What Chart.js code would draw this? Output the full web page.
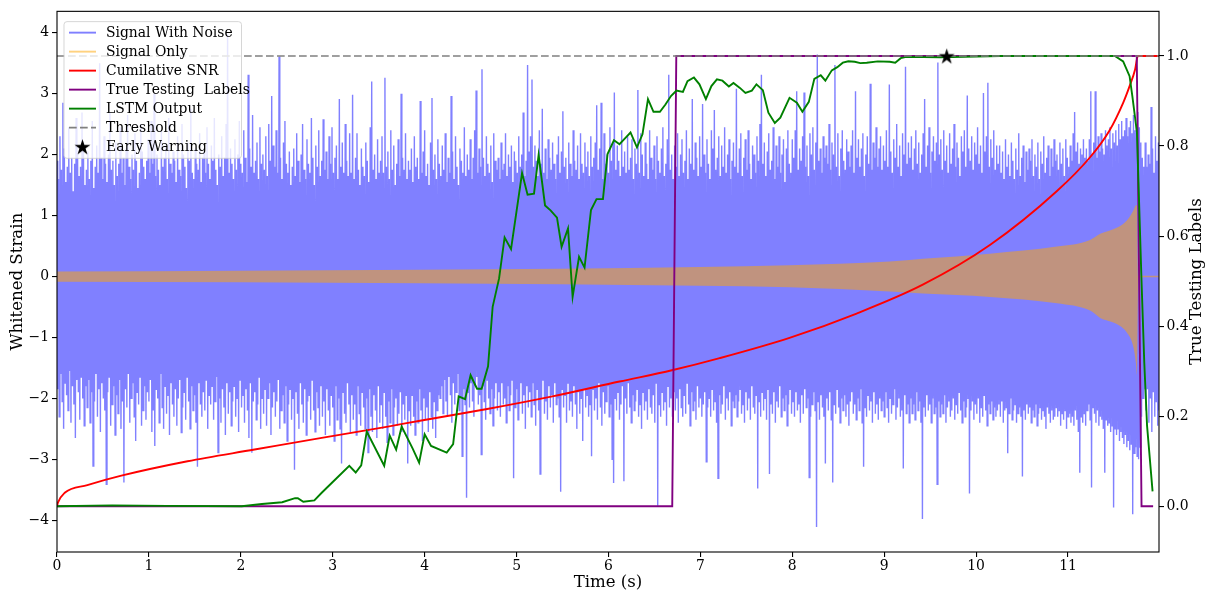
<!DOCTYPE html>
<html><head><meta charset="utf-8">
<script src="https://cdn.jsdelivr.net/npm/chart.js@4.4.1/dist/chart.umd.min.js"></script>
<style>html,body{margin:0;padding:0;background:#fff;overflow:hidden}canvas{display:block}</style>
</head><body>
<canvas id="c" width="1210" height="594"></canvas>
<script>
// ---------------- data ----------------
const xTicks = [0,1,2,3,4,5,6,7,8,9,10,11];
const leftTicks = [-4,-3,-2,-1,0,1,2,3,4];
const rightTicks = [0,0.2,0.4,0.6,0.8,1.0];
const timeMax = 11.99;

// whitened strain: sampled every noiseDt seconds, alternating local maxima / minima
const noiseDt = 0.008;
const noiseUp = [
1.9,1.6,2.3,1.75,2.85,2.1,1.55,1.8,2.45,1.7,1.95,1.4,1.85,2.6,2.0,1.65,1.8,2.69,2.2,1.5,
1.75,2.05,1.6,1.9,2.55,1.45,1.8,2.15,1.7,3.5,1.95,1.6,2.3,1.85,1.55,2.0,2.7,1.75,1.9,1.5,
2.2,1.65,1.85,2.45,1.7,1.95,1.5,2.1,2.65,1.8,1.6,2.0,1.75,2.35,1.9,1.45,1.7,2.5,2.05,1.8,
1.6,1.9,2.25,1.7,2.55,1.85,3.0,1.65,2.0,1.75,1.5,2.4,1.8,1.95,2.15,1.6,2.6,1.85,1.7,2.05,
1.9,1.55,2.3,1.75,1.65,2.5,2.0,1.8,1.45,2.2,1.9,2.75,1.7,1.6,2.1,1.85,1.75,2.35,1.55,1.95,
2.05,1.7,2.45,1.85,1.6,2.15,1.9,2.6,1.75,1.5,2.0,1.8,2.3,1.65,1.95,2.5,3.97,1.7,2.1,1.85,
1.6,2.25,1.75,2.0,2.55,1.85,1.7,2.4,1.95,1.55,3.31,2.1,1.8,2.65,1.7,1.9,2.2,1.6,2.45,1.85,
2.0,1.75,2.3,1.65,2.5,1.9,2.96,2.15,1.8,2.4,1.7,3.61,1.95,1.6,2.2,2.55,1.85,1.7,2.05,1.5,
1.8,2.1,1.65,2.35,1.9,1.55,2.0,2.5,1.75,1.6,2.25,1.85,1.7,2.6,1.95,1.5,2.15,1.8,2.4,1.65,
1.9,2.58,1.75,2.05,1.6,2.3,1.85,2.45,1.7,1.95,2.15,1.6,2.91,1.8,2.2,1.7,2.5,1.9,1.65,2.35,
1.7,2.98,1.6,1.95,2.35,1.75,1.5,2.1,1.8,1.65,2.2,1.9,1.55,2.45,3.2,1.75,2.0,1.6,2.25,1.7,
1.9,2.3,1.7,3.26,1.8,2.05,1.6,2.4,1.75,2.15,1.5,1.85,2.25,1.65,3.0,1.95,1.75,2.35,1.6,1.9,
1.75,2.1,1.55,2.3,1.8,1.95,1.6,2.88,1.7,2.05,2.4,1.65,1.85,1.5,2.2,2.93,1.75,2.0,1.6,2.25,
1.85,1.65,2.15,1.75,2.35,1.55,1.95,1.7,2.96,2.05,1.6,2.3,1.8,1.5,2.1,1.9,1.7,2.45,1.65,2.0,
1.75,2.25,1.6,1.95,2.4,3.05,1.7,2.1,1.8,3.4,1.95,1.65,2.3,1.85,1.7,2.15,1.55,2.35,1.9,1.75,
1.95,1.6,2.2,1.75,1.85,2.35,1.65,2.0,1.8,2.15,1.55,2.05,1.9,1.7,2.3,1.8,2.0,2.69,1.65,1.9,
3.47,2.05,2.3,3.23,1.8,2.15,1.9,1.65,2.4,1.85,2.75,1.7,2.1,1.6,2.25,1.95,1.75,2.2,1.85,1.6,
2.0,2.3,1.7,2.05,2.71,1.8,1.95,1.6,2.2,1.85,1.65,2.4,1.9,1.75,2.15,1.6,2.35,1.85,1.7,2.2,
1.8,2.05,1.65,2.3,1.8,1.95,2.2,2.81,1.75,2.1,2.85,1.6,2.35,1.85,2.0,1.7,2.45,1.9,2.2,3.02,
1.75,2.15,1.9,1.65,2.4,1.8,2.05,1.7,2.3,1.75,1.95,2.25,1.6,2.1,1.85,3.06,1.7,2.35,2.0,1.65,
2.2,1.85,1.6,2.4,1.95,1.75,2.15,1.6,2.3,1.9,1.7,2.1,2.45,1.65,1.85,2.25,3.31,1.75,2.0,1.6,
2.15,1.8,2.35,1.65,2.0,2.25,1.7,1.9,2.4,1.6,2.1,1.85,2.91,1.75,2.2,1.95,1.65,2.3,1.8,2.83,
2.0,1.7,2.25,1.85,1.6,2.4,2.1,2.73,1.75,1.95,2.3,1.65,2.15,1.8,2.45,1.7,2.0,2.25,1.6,1.9,
2.2,1.8,3.08,1.7,2.1,2.35,1.65,1.95,2.25,1.75,2.4,1.85,1.6,2.15,2.0,1.7,2.3,1.9,2.5,3.31,
1.85,2.2,1.65,2.05,2.35,1.75,1.9,2.45,1.6,2.15,1.8,2.3,1.7,2.0,2.25,1.55,2.1,2.4,1.85,1.7,
2.25,1.95,2.4,3.04,1.75,2.1,1.9,2.3,3.02,1.8,2.15,1.65,2.35,2.0,2.45,1.75,2.2,3.64,1.9,2.1,
1.7,2.3,1.95,2.15,1.85,2.5,1.75,2.2,2.0,3.47,1.8,2.35,1.65,2.1,2.4,1.9,1.75,2.25,2.05,1.8,
2.15,2.4,1.7,3.04,1.95,2.25,1.8,2.1,2.35,1.65,2.0,2.3,1.85,3.16,1.75,2.2,1.95,2.45,1.8,2.1,
2.3,1.75,2.15,1.9,2.4,1.8,3.15,2.05,1.7,2.25,1.95,2.5,1.8,2.15,1.65,2.35,2.0,3.44,1.85,2.2,
1.95,2.3,1.75,2.1,2.4,1.85,2.2,1.7,2.0,2.35,2.91,1.8,2.15,2.45,1.7,2.05,2.3,1.9,2.2,3.51,
2.0,2.25,1.75,2.4,1.9,2.15,1.7,2.35,1.85,2.1,2.5,1.8,2.2,1.95,1.65,2.3,2.05,2.4,1.8,2.97,
2.1,1.9,2.3,1.75,2.2,2.0,2.45,1.85,2.15,1.7,3.01,2.05,2.3,3.18,1.8,2.25,1.95,2.4,1.75,2.15,
1.85,2.15,1.7,2.05,1.6,2.25,1.8,2.0,1.65,2.2,1.9,1.6,2.1,1.75,2.35,1.65,1.95,2.15,1.55,2.05,
1.75,2.1,1.9,2.25,1.65,2.0,1.8,2.2,1.6,2.05,1.85,2.3,1.7,1.95,2.15,1.65,2.1,1.8,2.25,1.9,
2.0,1.75,2.2,1.85,2.1,1.65,2.25,1.95,1.8,2.15,1.9,2.35,2.7,2.05,2.2,1.85,2.1,2.0,2.25,1.95,
2.1,1.9,2.25,3.04,2.0,2.2,3.04,1.95,2.3,2.05,2.35,2.1,2.0,2.4,2.15,2.25,2.45,2.1,2.35,2.2,
2.4,2.15,2.5,2.25,2.55,2.3,2.4,2.6,2.3,2.45,2.55,2.35,2.65,2.4,2.5,2.7,2.45,2.2,1.95,1.8,
2.2,1.8,2.0,1.85,2.78,2.1,1.7,2.3,1.9,2.2
];
const noiseDown = [
-1.85,-2.3,-1.6,-2.05,-2.5,-1.75,-1.95,-2.2,-1.55,-2.4,-1.8,-2.1,-2.65,-1.7,-1.9,-2.35,-1.65,-2.0,-2.45,-1.8,
-2.15,-1.7,-2.4,-1.9,-3.11,-2.05,-1.6,-2.3,-1.85,-2.55,-1.75,-2.0,-2.2,-3.41,-1.9,-1.65,-2.45,-2.1,-1.8,-2.6,
-1.95,-2.25,-1.7,-2.5,-2.05,-3.38,-1.85,-2.15,-1.6,-2.4,-2.0,-1.75,-2.3,-2.7,-1.9,-2.1,-1.65,-2.45,-2.2,-1.8,
-2.35,-1.9,-2.05,-1.7,-2.55,-2.2,-2.78,-1.85,-2.0,-2.4,-1.6,-2.15,-2.5,-1.8,-2.25,-1.95,-2.6,-1.75,-2.1,-2.3,
-1.85,-2.45,-2.0,-1.7,-2.56,-2.15,-1.9,-2.35,-1.65,-2.05,-2.5,-1.8,-2.2,-1.95,-2.4,-3.12,-1.75,-2.1,-2.3,-1.9,
-2.2,-1.7,-2.5,-1.95,-2.1,-1.8,-2.35,-2.05,-1.65,-2.89,-2.0,-2.4,-1.85,-2.15,-2.6,-1.75,-2.25,-1.9,-2.45,-2.05,
-1.8,-2.3,-2.0,-2.55,-1.7,-2.15,-1.95,-2.4,-1.85,-2.2,-2.65,-1.75,-2.89,-2.05,-1.9,-2.35,-2.1,-1.65,-2.5,-2.0,
-2.25,-1.85,-2.45,-2.0,-1.75,-2.6,-2.15,-1.9,-2.3,-2.05,-1.7,-2.5,-2.2,-1.95,-2.4,-1.8,-2.7,-2.1,-1.85,-2.35,
-2.0,-3.17,-1.9,-2.25,-2.5,-1.75,-2.1,-2.4,-1.85,-2.6,-2.05,-1.95,-2.35,-1.7,-2.2,-2.55,-1.9,-2.15,-2.45,-1.8,
-2.3,-2.05,-2.6,-1.85,-2.2,-2.45,-1.95,-2.15,-2.7,-1.8,-2.35,-2.0,-2.5,-3.07,-1.9,-2.25,-2.4,-1.75,-2.1,-2.55,
-1.95,-2.35,-2.1,-2.6,-1.8,-2.25,-2.45,-1.9,-2.15,-2.5,-2.0,-2.89,-1.85,-2.3,-2.55,-1.95,-2.2,-2.65,-1.8,-2.4,
-2.1,-2.5,-1.9,-2.3,-2.72,-2.05,-2.4,-1.85,-2.6,-2.15,-2.0,-2.45,-2.25,-1.9,-2.55,-2.1,-2.35,-1.95,-3.07,-2.2,
-2.45,-1.95,-2.3,-2.6,-2.05,-2.4,-1.85,-2.2,-2.7,-2.0,-2.35,-2.15,-2.55,-1.9,-2.3,-2.5,-2.05,-2.65,-2.2,-1.95,
-2.0,-1.8,-2.25,-1.7,-2.05,-2.3,-1.65,-1.95,-2.4,-1.75,-2.1,-1.9,-1.6,-2.2,-2.0,-2.95,-1.85,-2.1,-3.63,-1.9,
-2.15,-1.75,-2.05,-2.3,-1.8,-1.65,-2.1,-1.95,-2.92,-1.8,-2.05,-2.35,-1.7,-2.0,-2.25,-1.85,-2.45,-2.0,-1.75,-2.2,
-1.9,-2.3,-1.75,-2.1,-2.0,-2.4,-1.8,-2.2,-1.95,-1.7,-3.31,-2.15,-1.85,-2.35,-2.05,-1.75,-2.25,-1.95,-2.5,-1.8,
-2.15,-1.9,-2.3,-1.75,-2.1,-2.45,-1.85,-2.2,-3.24,-2.0,-1.7,-2.25,-2.05,-2.35,-1.8,-2.15,-1.95,-2.4,-1.75,-2.1,
-2.0,-2.3,-3.53,-1.85,-2.15,-1.95,-2.4,-1.75,-2.2,-2.05,-2.3,-1.8,-2.1,-2.5,-1.9,-2.25,-2.0,-2.7,-1.85,-2.15,
-1.95,-2.3,-2.1,-2.95,-1.85,-2.2,-2.0,-2.35,-1.75,-2.15,-2.45,-1.9,-2.25,-2.05,-1.8,-2.3,-2.1,-3.0,-3.39,-2.0,
-2.2,-1.9,-2.35,-2.1,-1.8,-3.36,-2.0,-2.25,-1.75,-2.15,-2.4,-1.95,-2.2,-2.05,-1.85,-2.3,-2.1,-2.5,-1.9,-2.2,
-2.05,-2.35,-1.85,-2.15,-2.25,-1.95,-2.4,-1.75,-3.76,-2.1,-2.3,-1.9,-2.2,-2.05,-2.45,-1.8,-2.15,-2.0,-2.3,-1.9,
-2.2,-2.0,-2.4,-1.85,-2.15,-2.3,-1.95,-2.25,-1.75,-2.1,-2.45,-1.9,-2.2,-2.05,-2.35,-1.8,-2.15,-2.0,-2.3,-2.1,
-1.9,-3.04,-2.15,-2.0,-2.3,-1.85,-2.2,-2.05,-2.4,-3.31,-1.95,-2.25,-2.1,-1.8,-2.35,-2.0,-2.2,-1.9,-2.45,-2.05,
-2.15,-1.95,-2.3,-2.05,-1.85,-2.25,-2.1,-2.4,-1.9,-2.2,-2.0,-2.35,-1.8,-2.15,-2.25,-1.95,-3.48,-2.05,-2.3,-1.9,
-2.2,-2.0,-2.35,-1.85,-3.24,-2.1,-2.25,-1.9,-2.4,-2.05,-2.15,-1.8,-2.3,-2.0,-2.2,-1.95,-2.45,-2.1,-1.85,-2.25,
-2.05,-2.3,-1.9,-2.2,-2.1,-2.4,-1.95,-2.25,-1.85,-2.15,-2.0,-3.3,-2.3,-2.1,-1.9,-2.2,-4.11,-2.05,-2.35,-1.95,
-2.15,-2.3,-3.07,-2.0,-2.2,-1.9,-2.35,-3.38,-2.1,-2.25,-1.85,-2.15,-2.4,-2.0,-2.2,-1.95,-2.3,-2.1,-2.45,-2.05,
-1.9,-2.25,-2.1,-2.35,-2.0,-2.2,-1.85,-2.4,-3.12,-2.15,-2.3,-1.95,-2.2,-2.05,-2.4,-1.9,-2.25,-2.1,-2.35,-2.0,
-2.2,-2.05,-2.3,-1.9,-2.15,-2.4,-2.0,-2.25,-2.1,-1.85,-2.35,-2.15,-2.0,-2.3,-2.2,-3.15,-1.95,-2.25,-2.1,-2.4,
-2.0,-2.25,-2.1,-2.35,-1.9,-2.2,-2.05,-2.4,-3.98,-2.15,-2.3,-1.95,-2.2,-2.1,-2.4,-2.0,-2.25,-2.15,-3.41,-2.05,
-2.3,-2.1,-2.25,-1.95,-2.4,-2.15,-2.05,-2.3,-2.2,-2.0,-2.35,-2.1,-2.25,-1.9,-2.2,-2.4,-2.05,-2.3,-2.15,-2.0,
-3.56,-2.2,-2.05,-2.35,-2.1,-2.25,-2.0,-2.4,-2.15,-2.3,-1.95,-2.2,-2.45,-2.1,-2.25,-2.05,-2.35,-2.15,-2.3,-2.2,
-2.1,-2.3,-2.05,-2.4,-2.2,-2.15,-2.9,-2.25,-2.0,-2.35,-2.2,-2.1,-2.4,-2.25,-2.15,-2.3,-3.28,-2.2,-2.35,-2.1,
-2.25,-2.15,-2.4,-2.2,-2.3,-2.1,-2.45,-2.25,-2.15,-2.35,-2.2,-2.3,-2.5,-2.15,-2.25,-2.4,-2.2,-2.35,-2.3,-2.15,
-2.3,-2.2,-2.45,-2.25,-2.35,-2.2,-2.5,-2.3,-2.25,-2.4,-2.3,-2.45,-2.2,-2.35,-2.55,-3.22,-2.3,-2.4,-2.25,-2.45,
-2.2,-2.1,-2.35,-3.46,-2.15,-2.25,-2.4,-2.2,-2.45,-2.3,-2.35,-2.5,-3.22,-2.35,-2.45,-2.4,-2.55,-2.45,-3.79,-2.5,
-2.6,-2.5,-2.7,-2.55,-2.65,-2.75,-2.6,-2.8,-2.7,-2.85,-2.75,-3.9,-2.9,-2.8,-2.95,-3.0,-2.8,-2.3,-2.0,-1.85,
-2.2,-1.85,-2.4,-2.0,-2.55,-1.9,-2.3,-2.05,-2.45,-2.2
];
// dense (solid-looking) middle of the noisy strain: [t, upper, lower]
const noiseCore = [
[0,1.1,-1.1],[10.5,1.1,-1.1],[11,1.3,-1.35],[11.3,1.5,-1.55],[11.5,1.65,-1.7],[11.6,1.75,-1.9],
[11.7,1.9,-2.2],[11.76,2.0,-2.4],[11.78,1.1,-1.1],[11.99,1.1,-1.1]
];
// signal only (chirp) envelope: [t, upper, lower]
const chirpEnvelope = [
[0,0.08,-0.085],[2,0.095,-0.095],[3.95,0.11,-0.11],[6.99,0.155,-0.15],[7.97,0.185,-0.175],
[9.06,0.245,-0.245],[9.42,0.29,-0.28],[10.15,0.375,-0.335],[10.88,0.49,-0.44],[11.24,0.6,-0.56],
[11.35,0.7,-0.68],[11.53,0.8,-0.78],[11.64,0.92,-0.92],[11.71,1.08,-1.15],[11.74,1.17,-1.44],
[11.75,1.17,-1.62],[11.765,0,0],[11.99,0,0]
];
// cumulative SNR (right axis)
const cumulativeSNR = [
[0,0],[0.01,0.008],[0.084,0.03],[0.33,0.047],[0.70,0.068],[1.42,0.1],[2.15,0.126],[2.88,0.152],
[3.60,0.177],[3.95,0.19],[4.68,0.216],[5.39,0.244],[6.12,0.277],[6.69,0.302],[7.21,0.329],
[7.97,0.374],[8.70,0.428],[9.42,0.492],[10.15,0.58],[10.88,0.70],[11.24,0.775],[11.45,0.834],
[11.60,0.896],[11.67,0.933],[11.73,0.970],[11.76,1.0],[11.99,1.0]
];
// true testing labels (right axis)
const trueLabels = [[0,0],[6.694,0],[6.738,1],[11.748,1],[11.80,0],[11.926,0]];
// LSTM output (right axis)
const lstmOutput = [
[0,0],[0.6,0.002],[1.2,0.001],[2.01,0],[2.23,0.005],[2.45,0.009],[2.59,0.018],[2.62,0.018],
[2.68,0.01],[2.80,0.013],[2.88,0.03],[3.05,0.064],[3.18,0.09],[3.25,0.075],[3.31,0.091],
[3.37,0.166],[3.56,0.09],[3.62,0.157],[3.69,0.126],[3.75,0.177],[3.87,0.128],[3.94,0.097],
[4.00,0.16],[4.07,0.134],[4.24,0.119],[4.31,0.138],[4.37,0.244],[4.44,0.238],[4.50,0.291],
[4.57,0.261],[4.62,0.261],[4.69,0.311],[4.74,0.443],[4.81,0.506],[4.87,0.597],[4.94,0.571],
[5.06,0.740],[5.12,0.692],[5.19,0.694],[5.24,0.780],[5.31,0.668],[5.37,0.657],[5.44,0.641],
[5.49,0.576],[5.56,0.617],[5.61,0.465],[5.68,0.554],[5.74,0.53],[5.81,0.658],[5.87,0.682],
[5.94,0.682],[5.99,0.782],[6.06,0.813],[6.12,0.804],[6.19,0.819],[6.24,0.830],[6.31,0.797],
[6.37,0.826],[6.43,0.904],[6.49,0.876],[6.56,0.876],[6.62,0.892],[6.68,0.911],[6.74,0.923],
[6.81,0.920],[6.86,0.944],[6.93,0.952],[6.99,0.937],[7.06,0.904],[7.12,0.933],[7.18,0.948],
[7.24,0.945],[7.31,0.932],[7.36,0.940],[7.43,0.929],[7.49,0.918],[7.56,0.923],[7.61,0.937],
[7.68,0.924],[7.74,0.874],[7.81,0.851],[7.87,0.863],[7.97,0.907],[8.05,0.896],[8.11,0.876],
[8.18,0.898],[8.24,0.949],[8.31,0.957],[8.36,0.945],[8.43,0.968],[8.49,0.975],[8.55,0.985],
[8.61,0.988],[8.68,0.987],[8.74,0.984],[8.81,0.985],[8.93,0.988],[9.06,0.987],[9.12,0.985],
[9.18,0.995],[9.24,0.998],[9.61,0.997],[10.26,1.0],[11.51,1.0],[11.60,0.988],[11.67,0.955],
[11.70,0.911],[11.75,0.830],[11.80,0.499],[11.83,0.318],[11.86,0.179],[11.92,0.033]
];
const threshold = [[0,1.0],[11.99,1.0]];
const earlyWarning = [[9.68,1.0]];

const legendLabels = ['Signal With Noise','Signal Only','Cumilative SNR','True Testing  Labels','LSTM Output','Threshold','Early Warning'];
const axisTitles = { x: 'Time (s)', left: 'Whitened Strain', right: 'True Testing Labels' };

// ---------------- build tables for the library ----------------
const pts = arr => arr.map(p => ({x: p[0], y: p[1]}));
const noiseSeries = [];
for (let j = 0; j < noiseUp.length; j++) {
  noiseSeries.push({x: 2 * j * noiseDt, y: noiseUp[j]});
  noiseSeries.push({x: (2 * j + 1) * noiseDt, y: noiseDown[j]});
}
const FONT = "'DejaVu Serif', 'Liberation Serif', serif";
const BLUE = 'rgb(128,128,255)';
const ORANGE = 'rgba(255,165,0,0.5)';
const NONE = 'rgba(0,0,0,0)';

function makeStar(R) {
  const s = Math.ceil(2 * R + 2);
  const c = document.createElement('canvas');
  c.width = s; c.height = s;
  const g = c.getContext('2d');
  g.fillStyle = '#000';
  g.beginPath();
  for (let k = 0; k < 10; k++) {
    const r = (k % 2) ? R * 0.382 : R;
    const a = -Math.PI / 2 + k * Math.PI / 5;
    const px = s / 2 + r * Math.cos(a), py = s / 2 + R * 0.1 + r * Math.sin(a);
    if (k === 0) g.moveTo(px, py); else g.lineTo(px, py);
  }
  g.closePath(); g.fill();
  return c;
}
const starImg = makeStar(8.4);

const lineDs = (label, data, color, axis, order, extra) => Object.assign({
  label, data: pts(data), borderColor: color, backgroundColor: color, borderWidth: 1.9,
  pointRadius: 0, fill: false, tension: 0, yAxisID: axis, order
}, extra || {});

const datasets = [
  { label: 'core+', data: pts(noiseCore.map(r => [r[0], r[1]])), borderColor: NONE, borderWidth: 1,
    backgroundColor: BLUE, fill: '+1', pointRadius: 0, yAxisID: 'y', order: 9 },
  { label: 'core-', data: pts(noiseCore.map(r => [r[0], r[2]])), borderColor: NONE, borderWidth: 1,
    pointRadius: 0, fill: false, yAxisID: 'y', order: 9 },
  { label: legendLabels[0], data: noiseSeries, borderColor: BLUE, borderWidth: 1.4, pointRadius: 0,
    fill: false, tension: 0, yAxisID: 'y', order: 8 },
  { label: legendLabels[1], data: pts(chirpEnvelope.map(r => [r[0], r[1]])), borderColor: NONE, borderWidth: 1.5,
    backgroundColor: ORANGE, fill: '+1', pointRadius: 0, cubicInterpolationMode: 'monotone', yAxisID: 'y', order: 7,
    segment: { borderColor: c => c.p0.parsed.x >= 11.76 ? ORANGE : NONE } },
  { label: 'chirp-', data: pts(chirpEnvelope.map(r => [r[0], r[2]])), borderColor: NONE, borderWidth: 1,
    pointRadius: 0, fill: false, cubicInterpolationMode: 'monotone', yAxisID: 'y', order: 7 },
  lineDs(legendLabels[2], cumulativeSNR, 'rgb(255,0,0)', 'y1', 5, {cubicInterpolationMode: 'monotone'}),
  lineDs(legendLabels[3], trueLabels, 'rgb(128,0,128)', 'y1', 4),
  lineDs(legendLabels[4], lstmOutput, 'rgb(0,128,0)', 'y1', 3),
  lineDs(legendLabels[5], threshold, 'rgb(128,128,128)', 'y1', 2, {borderDash: [7.7, 3.3], borderWidth: 1.6}),
  { label: legendLabels[6], data: pts(earlyWarning), showLine: false, pointStyle: starImg, pointRadius: 8,
    borderColor: '#000', backgroundColor: '#000', yAxisID: 'y1', order: 1 }
];

const tickFont = { family: FONT, size: 13.9 };
const titleFont = { family: FONT, size: 16.6 };
const setTicks = list => s => { s.ticks = list.map(v => ({ value: v })); };
const minus = v => (v < 0 ? '\u2212' + Math.abs(v) : String(v));

const framePlugin = {
  id: 'frame',
  afterDatasetsDraw(chart) {
    const { ctx, chartArea: a } = chart;
    ctx.save();
    ctx.strokeStyle = '#000';
    ctx.lineWidth = 1.1;
    ctx.strokeRect(a.left, a.top, a.right - a.left, a.bottom - a.top);
    // right axis title, reading bottom-to-top
    ctx.translate(a.right + 38, (a.top + a.bottom) / 2);
    ctx.rotate(-Math.PI / 2);
    ctx.font = '16.6px ' + FONT;
    ctx.fillStyle = '#000';
    ctx.textAlign = 'center';
    ctx.textBaseline = 'middle';
    ctx.fillText(axisTitles.right, 0, 0);
    ctx.restore();
  }
};

const legendPlugin = {
  id: 'boxLegend',
  afterDraw(chart) {
    const { ctx, chartArea: a } = chart;
    const x0 = a.left + 7, y0 = a.top + 10.3, w = 177.5, h = 136.7, r = 3;
    ctx.save();
    ctx.beginPath();
    ctx.moveTo(x0 + r, y0);
    ctx.arcTo(x0 + w, y0, x0 + w, y0 + h, r);
    ctx.arcTo(x0 + w, y0 + h, x0, y0 + h, r);
    ctx.arcTo(x0, y0 + h, x0, y0, r);
    ctx.arcTo(x0, y0, x0 + w, y0, r);
    ctx.closePath();
    ctx.fillStyle = 'rgba(255,255,255,0.8)';
    ctx.fill();
    ctx.strokeStyle = 'rgba(204,204,204,0.8)';
    ctx.lineWidth = 1;
    ctx.stroke();
    const styles = [
      { c: 'rgba(0,0,255,0.5)' }, { c: ORANGE }, { c: 'rgb(255,0,0)' }, { c: 'rgb(128,0,128)' },
      { c: 'rgb(0,128,0)' }, { c: 'rgb(128,128,128)', dash: [7.7, 3.3] }, { star: true }
    ];
    ctx.font = '13.9px ' + FONT;
    ctx.textBaseline = 'middle';
    ctx.textAlign = 'left';
    legendLabels.forEach((lab, i) => {
      const y = y0 + 11 + i * 19;
      const st = styles[i];
      if (st.star) {
        ctx.drawImage(starImg, x0 + 18.5 - starImg.width / 2, y - starImg.height / 2);
      } else {
        ctx.beginPath();
        ctx.setLineDash(st.dash || []);
        ctx.strokeStyle = st.c;
        ctx.lineWidth = 1.9;
        ctx.moveTo(x0 + 5, y);
        ctx.lineTo(x0 + 32, y);
        ctx.stroke();
        ctx.setLineDash([]);
      }
      ctx.fillStyle = '#000';
      ctx.fillText(lab, x0 + 42, y + 0.5);
    });
    ctx.restore();
  }
};

new Chart(document.getElementById('c'), {
  type: 'line',
  data: { datasets },
  options: {
    responsive: false,
    devicePixelRatio: 1,
    animation: false,
    events: [],
    parsing: false,
    normalized: true,
    layout: { padding: { top: 8, left: 0, right: 0, bottom: 0 } },
    plugins: { legend: { display: false }, tooltip: { enabled: false } },
    scales: {
      x: {
        type: 'linear', min: 0, max: timeMax,
        afterBuildTicks: setTicks(xTicks),
        afterFit: s => { s.height = 42; },
        ticks: { font: tickFont, color: '#000', padding: 1, maxRotation: 0, autoSkip: false, callback: v => minus(v) },
        grid: { drawOnChartArea: false, drawTicks: true, tickLength: 5, color: '#000', lineWidth: 1.1 },
        border: { display: false },
        title: { display: true, text: axisTitles.x, font: titleFont, color: '#000', padding: { top: 0, bottom: 1 } }
      },
      y: {
        type: 'linear', position: 'left', min: -4.52, max: 4.35,
        afterBuildTicks: setTicks(leftTicks),
        afterFit: s => { s.width = 57; },
        ticks: { font: tickFont, color: '#000', padding: 3, callback: v => minus(v) },
        grid: { drawOnChartArea: false, drawTicks: true, tickLength: 5, color: '#000', lineWidth: 1.1 },
        border: { display: false },
        title: { display: true, text: axisTitles.left, font: titleFont, color: '#000', padding: { top: 8, bottom: 0 } }
      },
      y1: {
        type: 'linear', position: 'right', min: -0.1015, max: 1.099,
        afterBuildTicks: setTicks(rightTicks),
        afterFit: s => { s.width = 51; },
        ticks: { font: tickFont, color: '#000', padding: 2.5, callback: v => v.toFixed(1) },
        grid: { drawOnChartArea: false, drawTicks: true, tickLength: 5, color: '#000', lineWidth: 1.1 },
        border: { display: false },
        title: { display: false }
      }
    }
  },
  plugins: [framePlugin, legendPlugin]
});
</script>
</body></html>
